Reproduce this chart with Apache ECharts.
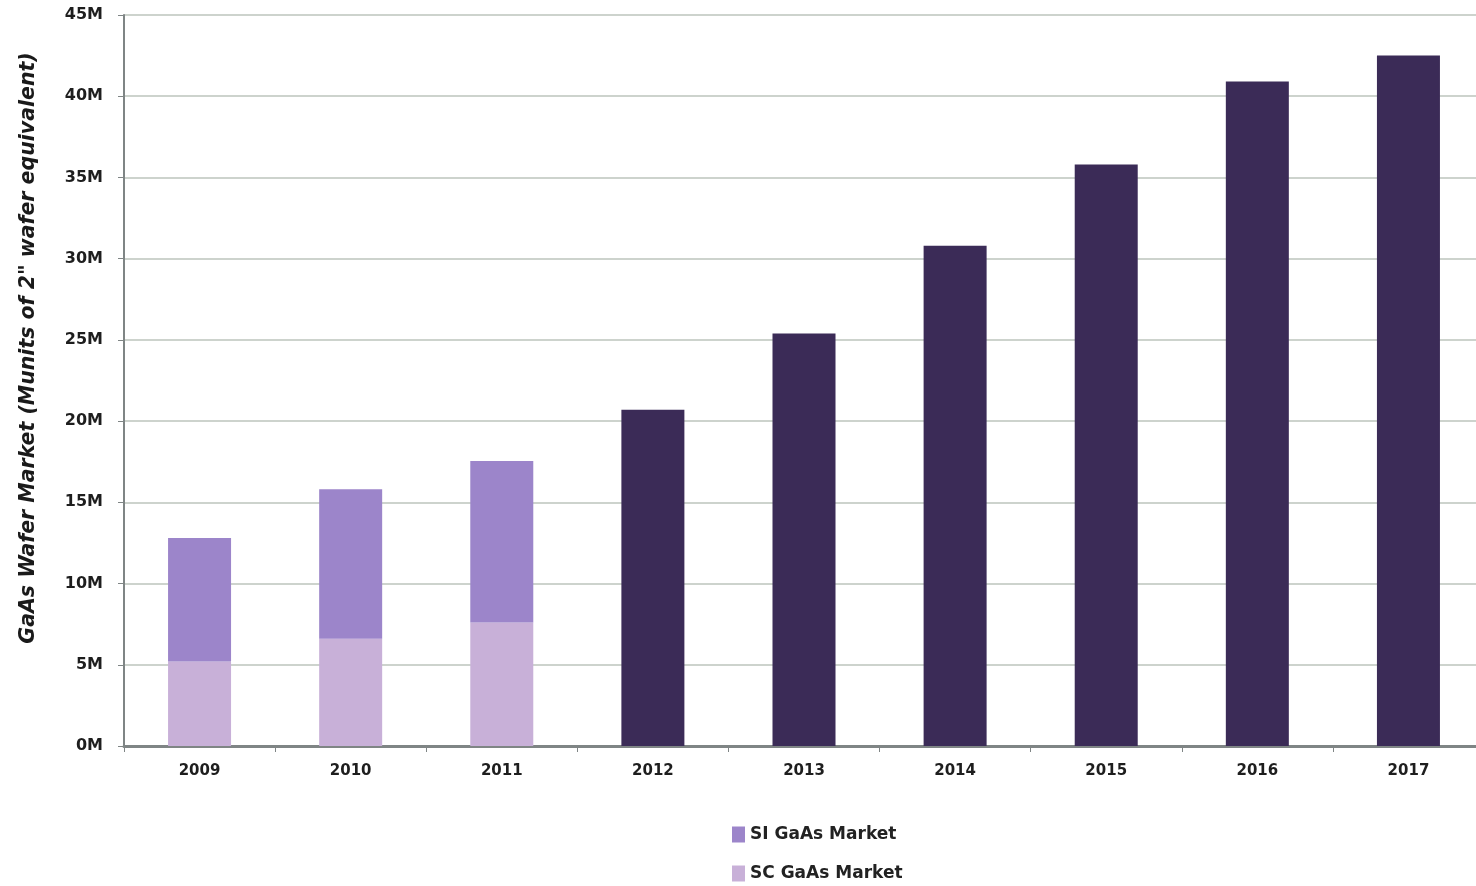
<!DOCTYPE html>
<html>
<head>
<meta charset="utf-8">
<style>
  html, body { margin: 0; padding: 0; background: #ffffff; overflow: hidden; }
  #chart { width: 1490px; height: 886px; }
</style>
<script src="https://cdn.jsdelivr.net/npm/echarts@6/dist/echarts.min.js"></script>
</head>
<body>
<div id="chart"></div>
<script>
// Years on the category axis
const years = ['2009', '2010', '2011', '2012', '2013', '2014', '2015', '2016', '2017'];
// Semi-conducting GaAs wafers (Munits, 2" equivalent) – bottom of the stack
const scMarket = [5.2, 6.6, 7.6, null, null, null, null, null, null];
// Semi-insulating GaAs wafers – stacked on top of SC
const siMarket = [7.6, 9.2, 9.95, null, null, null, null, null, null];
// Total wafer market forecast
const totalForecast = [null, null, null, 20.7, 25.4, 30.8, 35.8, 40.9, 42.5];
// Value-axis range
const yMin = 0, yMax = 45, yStep = 5;

const chart = echarts.init(document.getElementById('chart'));
const labelFont = 'DejaVu Sans, Verdana, sans-serif';

chart.setOption({
  backgroundColor: '#ffffff',
  animation: false,
  grid: { left: 124, top: 15, width: 1360, height: 731 },
  legend: {
    orient: 'vertical',
    left: 732,
    top: 826,
    padding: 0,
    icon: 'rect',
    itemWidth: 13,
    itemHeight: 16,
    itemGap: 22,
    data: ['SI GaAs Market', 'SC GaAs Market'],
    textStyle: { fontFamily: labelFont, fontSize: 17, fontWeight: 'bold', color: '#222222' }
  },
  xAxis: {
    type: 'category',
    data: years,
    axisLine: { show: true, lineStyle: { color: '#7f8585', width: 3 } },
    axisTick: { show: true, length: 6, lineStyle: { color: '#7f8585', width: 1 } },
    axisLabel: { margin: 18, fontFamily: labelFont, fontSize: 15, fontWeight: 'bold', color: '#1e1e1e' }
  },
  yAxis: {
    type: 'value',
    min: yMin,
    max: yMax,
    interval: yStep,
    name: 'GaAs Wafer Market (Munits of 2" wafer equivalent)',
    nameLocation: 'middle',
    nameGap: 85,
    nameTextStyle: {
      fontFamily: labelFont, fontSize: 20.5, fontWeight: 'bold', fontStyle: 'italic', color: '#1a1a1a',
      padding: [0, 0, 0, 65]
    },
    axisLine: { show: true, lineStyle: { color: '#7f8585', width: 2 } },
    axisTick: { show: true, length: 6, lineStyle: { color: '#7f8585', width: 1 } },
    axisLabel: {
      margin: 21,
      fontFamily: labelFont, fontSize: 16, fontWeight: 'bold', color: '#1e1e1e',
      formatter: v => v + 'M'
    },
    splitLine: { show: true, lineStyle: { color: '#cdd3cd', width: 2 } }
  },
  series: [
    {
      name: 'SC GaAs Market', type: 'bar', stack: 'wafers', barWidth: 63,
      itemStyle: { color: '#c8b0d8' }, data: scMarket
    },
    {
      name: 'SI GaAs Market', type: 'bar', stack: 'wafers', barWidth: 63,
      itemStyle: { color: '#9c85ca' }, data: siMarket
    },
    {
      name: 'GaAs Wafer Market', type: 'bar', stack: 'wafers', barWidth: 63,
      itemStyle: { color: '#3b2b57' }, data: totalForecast
    }
  ]
});
</script>
</body>
</html>
